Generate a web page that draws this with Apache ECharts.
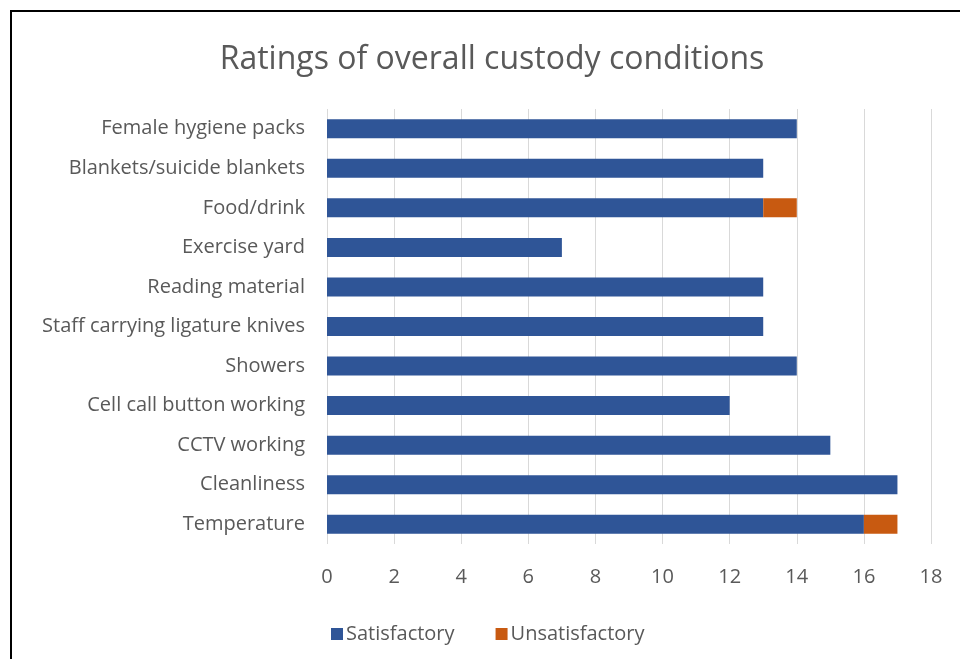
<!DOCTYPE html>
<html>
<head>
<meta charset="utf-8">
<script src="https://cdn.jsdelivr.net/npm/echarts@6/dist/echarts.min.js"></script>
<style>
  html, body { margin: 0; padding: 0; background: #fff; }
  #main { width: 960px; height: 659px; }
  #frame { position: absolute; left: 10px; top: 10px; width: 960px; height: 700px;
           border-left: 2px solid #000; border-top: 2px solid #000; pointer-events: none; }
</style>
</head>
<body>
<div id="main"></div>
<div id="frame"></div>
<script>
const categories = ['Female hygiene packs', 'Blankets/suicide blankets', 'Food/drink', 'Exercise yard',
  'Reading material', 'Staff carrying ligature knives', 'Showers', 'Cell call button working',
  'CCTV working', 'Cleanliness', 'Temperature']
const satisfactory = [14, 13, 13, 7, 13, 13, 14, 12, 15, 17, 16]
const unsatisfactory = [0, 0, 1, 0, 0, 0, 0, 0, 0, 0, 1]
const xTicks = { min: 0, max: 18, interval: 2 }

const font = '"Open Sans", Lato, sans-serif'
const grey = '#595959'
const myChart = echarts.init(document.getElementById('main'))
const option = {
  animation: false,
  title: {
    text: 'Ratings of overall custody conditions',
    left: 487,
    top: 39,
    textAlign: 'center',
    textStyle: { fontFamily: font, fontSize: 32, fontWeight: 'normal', color: grey }
  },
  legend: {
    data: ['Satisfactory', 'Unsatisfactory'],
    left: 326,
    top: 619,
    itemWidth: 12,
    itemHeight: 12,
    itemGap: 41,
    icon: 'rect',
    textStyle: { fontFamily: font, fontSize: 20, color: grey, padding: [0, 0, 0, -2] }
  },
  grid: { left: 327, right: 29, top: 109, bottom: 115, containLabel: false },
  xAxis: {
    type: 'value',
    min: xTicks.min,
    max: xTicks.max,
    interval: xTicks.interval,
    axisLine: { show: false },
    axisTick: { show: false },
    axisLabel: { margin: 23, fontFamily: font, fontSize: 20, color: grey },
    splitLine: { lineStyle: { color: '#d9d9d9', width: 1 } }
  },
  yAxis: {
    type: 'category',
    data: categories,
    inverse: true,
    axisLine: { show: false },
    axisTick: { show: false },
    axisLabel: { margin: 22, fontFamily: font, fontSize: 20, color: grey }
  },
  series: [
    {
      name: 'Satisfactory',
      type: 'bar',
      stack: 'total',
      barWidth: 19,
      data: satisfactory,
      itemStyle: { color: '#2f5597' }
    },
    {
      name: 'Unsatisfactory',
      type: 'bar',
      stack: 'total',
      barWidth: 19,
      data: unsatisfactory,
      itemStyle: { color: '#c85a11' }
    }
  ]
}
myChart.setOption(option)
</script>
</body>
</html>
